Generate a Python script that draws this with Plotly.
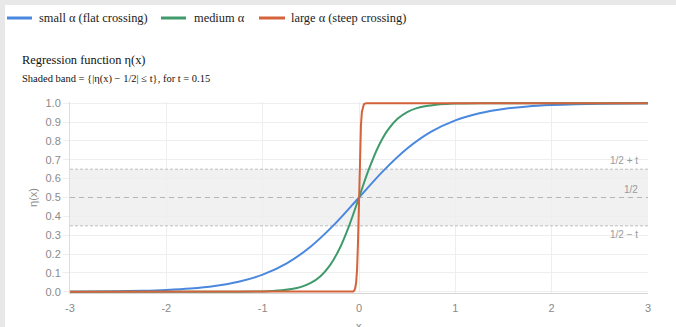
import plotly.graph_objects as go

# ---------------- data ----------------
series_names = ["small α (flat crossing)", "medium α", "large α (steep crossing)"]

blue_x = [-3, -2.75, -2.5, -2.25, -2, -1.75, -1.5, -1.25, -1, -0.75, -0.5, -0.25, 0,
          0.25, 0.5, 0.75, 1, 1.25, 1.5, 1.75, 2, 2.25, 2.5, 2.75, 3]
blue_y = [0.001, 0.0018, 0.0032, 0.0056, 0.010, 0.0175, 0.0307, 0.0534, 0.0911, 0.1512, 0.2405, 0.360, 0.5,
          0.640, 0.7595, 0.8488, 0.9089, 0.9466, 0.9693, 0.9825, 0.990, 0.9944, 0.9968, 0.9982, 0.999]

green_x = [-3, -2, -1.5, -1.25, -1, -0.9, -0.8, -0.7, -0.6, -0.5, -0.4, -0.3, -0.2, -0.1, 0,
           0.1, 0.2, 0.3, 0.4, 0.5, 0.6, 0.7, 0.8, 0.9, 1, 1.25, 1.5, 2, 3]
green_y = [0.0, 0.0, 0.00012, 0.00055, 0.0025, 0.0045, 0.0082, 0.0148, 0.0266, 0.0474, 0.0832, 0.142, 0.231, 0.354, 0.5,
           0.646, 0.769, 0.858, 0.9168, 0.9526, 0.9734, 0.9852, 0.9918, 0.9955, 0.9975, 0.99945, 0.99988, 1.0, 1.0]

red_x = [-3, -0.08, -0.06, -0.05, -0.04, -0.03, -0.02, -0.01, 0,
         0.01, 0.02, 0.03, 0.04, 0.05, 0.06, 0.08, 3]
red_y = [0.0, 0.0003, 0.0025, 0.0067, 0.018, 0.047, 0.119, 0.269, 0.5,
         0.731, 0.881, 0.953, 0.982, 0.9933, 0.9975, 0.9997, 1.0]

t_value = 0.15
center = 0.5
band_labels = ["1/2 + t", "1/2", "1/2 − t"]
x_ticks = [-3, -2, -1, 0, 1, 2, 3]
y_ticks = [0.0, 0.1, 0.2, 0.3, 0.4, 0.5, 0.6, 0.7, 0.8, 0.9, 1.0]

title_text = "Regression function η(x)"
subtitle_text = "Shaded band = {|η(x) − 1/2| ≤ t}, for t = 0.15"
x_title = "x"
y_title = "η(x)"

# ---------------- styling ----------------
colors = ["#4a87de", "#3f9a6c", "#d4623a"]
W, H = 676, 327
ML, MR, MT, MB = 70, 28, 102, 34
PW, PH = W - ML - MR, H - MT - MB
SERIF = "Liberation Serif, Times New Roman, serif"
SANS = "Liberation Sans, Arial, sans-serif"
GRAY_TXT = "#8a8a8a"


def px_x(px):
    return (px - ML) / PW


def px_y(py):
    return (H - MB - py) / PH


fig = go.Figure()

# reference lines (drawn first, under the curves)
fig.add_trace(go.Scatter(x=[-3, 3], y=[center + t_value] * 2, mode="lines",
                         line=dict(color="#bdbdbd", width=1, dash="3px,2px"),
                         hoverinfo="skip", showlegend=False))
fig.add_trace(go.Scatter(x=[-3, 3], y=[center] * 2, mode="lines",
                         line=dict(color="#b5b5b5", width=1, dash="5px,4px"),
                         hoverinfo="skip", showlegend=False))
fig.add_trace(go.Scatter(x=[-3, 3], y=[center - t_value] * 2, mode="lines",
                         line=dict(color="#bdbdbd", width=1, dash="3px,2px"),
                         hoverinfo="skip", showlegend=False))

for xs, ys, name, col, shape in [
    (blue_x, blue_y, series_names[0], colors[0], "spline"),
    (green_x, green_y, series_names[1], colors[1], "spline"),
    (red_x, red_y, series_names[2], colors[2], "linear"),
]:
    fig.add_trace(go.Scatter(x=xs, y=ys, mode="lines", name=name,
                             line=dict(color=col, width=2, shape=shape, smoothing=1.0),
                             showlegend=False))

shapes = [
    # white card on grey page
    dict(type="rect", xref="paper", yref="paper", layer="below",
         x0=px_x(5), x1=px_x(W + 5), y0=px_y(H + 5), y1=px_y(5),
         fillcolor="white", line=dict(width=0)),
    # shaded band
    dict(type="rect", xref="x", yref="y", layer="below",
         x0=-3, x1=3, y0=center - t_value, y1=center + t_value,
         fillcolor="#f1f1f1", line=dict(width=0)),
]

# manual legend
leg_y = px_y(18)
leg_items = [(7, 32, 38), (161, 186, 193), (259, 285, 290)]
annotations = []
for (a, b, tx), name, col in zip(leg_items, series_names, colors):
    shapes.append(dict(type="line", xref="paper", yref="paper",
                       x0=px_x(a), x1=px_x(b), y0=leg_y, y1=leg_y,
                       line=dict(color=col, width=3)))
    annotations.append(dict(xref="paper", yref="paper", x=px_x(tx - 1), y=leg_y,
                            xanchor="left", yanchor="middle", showarrow=False,
                            text=name, font=dict(family=SERIF, size=12.4, color="#222")))

annotations += [
    dict(xref="paper", yref="paper", x=px_x(20), y=px_y(60), xanchor="left", yanchor="middle",
         showarrow=False, text=title_text, font=dict(family=SERIF, size=12.4, color="#111")),
    dict(xref="paper", yref="paper", x=px_x(20), y=px_y(79), xanchor="left", yanchor="middle",
         showarrow=False, text=subtitle_text, font=dict(family=SERIF, size=10.5, color="#111")),
    dict(xref="x", yref="y", x=3, y=center + t_value, xanchor="right", yanchor="bottom",
         xshift=-8, yshift=1, showarrow=False, text=band_labels[0],
         font=dict(family=SANS, size=10, color="#9a9a9a")),
    dict(xref="x", yref="y", x=3, y=center, xanchor="right", yanchor="bottom",
         xshift=-8, yshift=1, showarrow=False, text=band_labels[1],
         font=dict(family=SANS, size=10, color="#9a9a9a")),
    dict(xref="x", yref="y", x=3, y=center - t_value, xanchor="right", yanchor="top",
         xshift=-8, yshift=-1, showarrow=False, text=band_labels[2],
         font=dict(family=SANS, size=10, color="#9a9a9a")),
    # x-axis title (sits at the very bottom edge, partly cut off as in the reference)
    dict(xref="x", yref="paper", x=0, y=px_y(326), xanchor="center", yanchor="middle",
         showarrow=False, text=x_title, font=dict(family=SANS, size=11, color=GRAY_TXT)),
]

fig.update_layout(
    width=W, height=H, autosize=False,
    margin=dict(l=ML, r=MR, t=MT, b=MB, pad=0),
    paper_bgcolor="#e8e8e8", plot_bgcolor="rgba(0,0,0,0)",
    shapes=shapes, annotations=annotations, showlegend=False,
    font=dict(family=SANS, size=11, color=GRAY_TXT),
)
fig.update_xaxes(range=[-3, 3], tickvals=x_ticks, ticktext=[str(v) for v in x_ticks],
                 automargin=False,
                 showgrid=True, gridcolor="#eeeeee", gridwidth=1, zeroline=False,
                 showline=True, linecolor="#d6d6d6", linewidth=1,
                 ticks="outside", ticklen=5, tickcolor="rgba(0,0,0,0)",
                 tickfont=dict(family=SANS, size=11, color=GRAY_TXT))
fig.update_yaxes(range=[-0.006, 1.006], tickvals=y_ticks, ticktext=[f"{v:.1f}" for v in y_ticks],
                 automargin=False,
                 showgrid=True, gridcolor="#eeeeee", gridwidth=1, zeroline=False,
                 showline=True, linecolor="#dddddd", linewidth=1,
                 ticks="outside", ticklen=6, tickcolor="#eeeeee",
                 tickfont=dict(family=SANS, size=11, color=GRAY_TXT),
                 title=dict(text=y_title, standoff=5, font=dict(family=SANS, size=11, color=GRAY_TXT)))

fig.write_html(
    "out.html",
    config={"displayModeBar": False},
    post_script="document.body.style.margin='0';document.body.style.overflow='hidden';",
)
